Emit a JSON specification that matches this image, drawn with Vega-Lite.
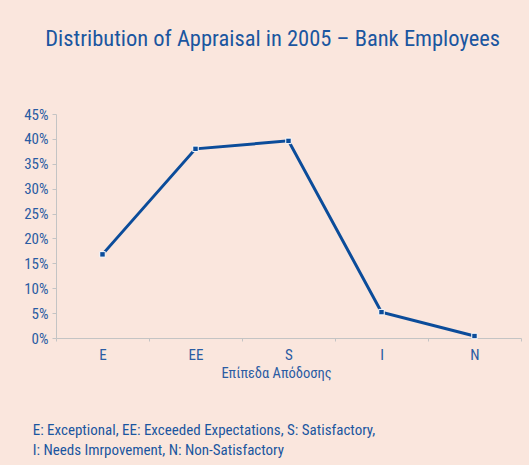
{
  "$schema": "https://vega.github.io/schema/vega-lite/v6.json",
  "background": "#FAE6DD",
  "padding": {"left": 23, "right": 10, "top": 27, "bottom": 7},
  "title": {
    "text": "Distribution of Appraisal in 2005 – Bank Employees",
    "font": "Liberation Sans Narrow, Arial Narrow, Roboto Condensed, Noto Sans Condensed, Open Sans Condensed, DejaVu Sans Condensed, sans-serif",
    "fontSize": 22.5,
    "fontWeight": "normal",
    "color": "#1B56A0",
    "anchor": "middle",
    "frame": "bounds",
    "offset": 57
  },
  "vconcat": [
    {
      "width": 465,
      "height": 224,
      "title": {
        "text": ["E: Exceptional, EE: Exceeded Expectations, S: Satisfactory,", "I: Needs Imrpovement, N: Non-Satisfactory"],
        "orient": "bottom",
        "anchor": "start",
        "frame": "bounds",
        "dx": 9,
        "offset": 43,
        "font": "Liberation Sans Narrow, Arial Narrow, Roboto Condensed, Noto Sans Condensed, Open Sans Condensed, DejaVu Sans Condensed, sans-serif",
        "fontSize": 15,
        "fontWeight": "normal",
        "lineHeight": 20,
        "color": "#1B56A0"
      },
      "data": {
        "values": [
          {"level": "E", "share": 0.168},
          {"level": "EE", "share": 0.380},
          {"level": "S", "share": 0.396},
          {"level": "I", "share": 0.052},
          {"level": "N", "share": 0.004}
        ]
      },
      "mark": {
        "type": "line",
        "color": "#0B4C9A",
        "strokeWidth": 3,
        "point": {"shape": "square", "size": 30, "filled": true, "fill": "#0B4C9A", "stroke": "white", "strokeWidth": 1}
      },
      "encoding": {
        "x": {
          "field": "level",
          "type": "nominal",
          "sort": ["E", "EE", "S", "I", "N"],
          "scale": {"type": "band", "paddingInner": 0, "paddingOuter": 0},
          "axis": {
            "title": "Επίπεδα Απόδοσης",
            "labelAngle": 0,
            "tickBand": "extent",
            "tickSize": 3,
            "labelPadding": 6,
            "titlePadding": 4,
            "titleX": 220
          }
        },
        "y": {
          "field": "share",
          "type": "quantitative",
          "scale": {"domain": [0, 0.45], "nice": false},
          "axis": {
            "title": null,
            "values": [0, 0.05, 0.1, 0.15, 0.2, 0.25, 0.3, 0.35, 0.4, 0.45],
            "format": ".0%",
            "tickSize": 4,
            "labelPadding": 4
          }
        }
      }
    }
  ],
  "config": {
    "view": {"stroke": null},
    "axis": {
      "grid": false,
      "domainColor": "#C4C4C4",
      "tickColor": "#C4C4C4",
      "labelFont": "Liberation Sans Narrow, Arial Narrow, Roboto Condensed, Noto Sans Condensed, Open Sans Condensed, DejaVu Sans Condensed, sans-serif",
      "labelFontSize": 15,
      "labelColor": "#2A5CA3",
      "titleFont": "Liberation Sans Narrow, Arial Narrow, Roboto Condensed, Noto Sans Condensed, Open Sans Condensed, DejaVu Sans Condensed, sans-serif",
      "titleFontSize": 14.5,
      "titleFontWeight": "normal",
      "titleColor": "#2A5CA3"
    }
  }
}
